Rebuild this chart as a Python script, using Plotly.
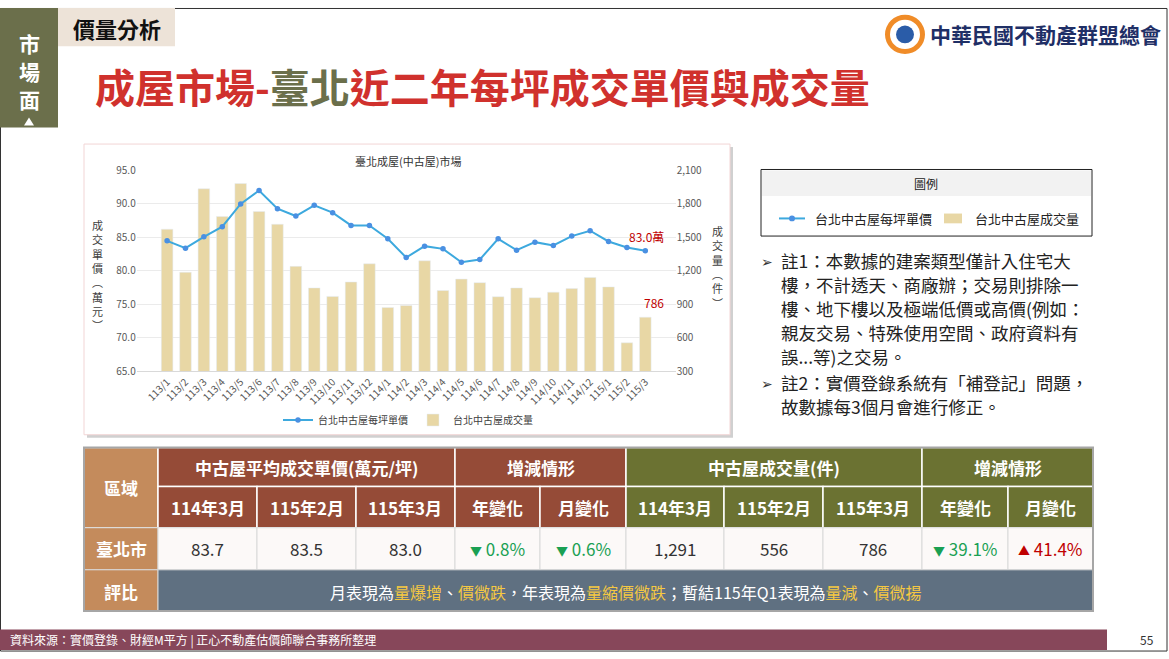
import plotly.graph_objects as go

W, H = 1169, 659
FONT = "Noto Sans CJK TC"

# chart data
months = ["113/1", "113/2", "113/3", "113/4", "113/5", "113/6", "113/7", "113/8", "113/9",
          "113/10", "113/11", "113/12", "114/1", "114/2", "114/3", "114/4", "114/5", "114/6",
          "114/7", "114/8", "114/9", "114/10", "114/11", "114/12", "115/1", "115/2", "115/3"]
price = [84.5, 83.4, 85.1, 86.6, 90.0, 92.0, 89.3, 88.2, 89.8, 88.7, 86.8, 86.8, 84.8, 82.0,
         83.7, 83.3, 81.3, 81.7, 84.8, 83.1, 84.3, 83.8, 85.2, 86.0, 84.4, 83.5, 83.0]
volume = [1574, 1188, 1936, 1688, 1983, 1732, 1618, 1241, 1048, 972, 1101, 1264, 873, 890,
          1291, 1025, 1127, 1095, 969, 1048, 960, 1010, 1042, 1142, 1057, 556, 786]

# table data
period_labels = ["114年3月", "115年2月", "115年3月"]
change_labels = ["年變化", "月變化"]
price_vals = [83.7, 83.5, 83.0]
price_chg = [-0.8, -0.6]
vol_vals = [1291, 556, 786]
vol_chg = [-39.1, 41.4]

notes = [
    ("➢", "註1：本數據的建案類型僅計入住宅大"),
    ("", "樓，不計透天、商廠辦；交易則排除一"),
    ("", "樓、地下樓以及極端低價或高價(例如："),
    ("", "親友交易、特殊使用空間、政府資料有"),
    ("", "誤...等)之交易。"),
    ("➢", "註2：實價登錄系統有「補登記」問題，"),
    ("", "故數據每3個月會進行修正。"),
]
note_y = [258, 282.5, 307, 331.5, 356, 383, 407.5]

RED = "#D0312D"
OLIVE = "#6B6F4B"
BROWN = "#954B37"
TAN = "#C48B5C"
GREEN = "#6B7232"
SLATE = "#5F7081"
BAR = "#E8D7A5"
LINE = "#3DA9DE"


def X(px):
    return px / W


def Y(py):
    return 1 - py / H


shapes = []
annots = []


def rect(x0, y0, x1, y1, fill, line="rgba(0,0,0,0)", lw=1, layer="below"):
    shapes.append(dict(type="rect", xref="paper", yref="paper", x0=X(x0), x1=X(x1),
                       y0=Y(y1), y1=Y(y0), fillcolor=fill, line=dict(color=line, width=lw),
                       layer=layer))


def text(x, y, s, size=12, color="#000000", xa="center", ya="middle", bold=False):
    annots.append(dict(xref="paper", yref="paper", x=X(x), y=Y(y), text=f"<b>{s}</b>" if bold else s,
                       showarrow=False, xanchor=xa, yanchor=ya,
                       font=dict(family=FONT, size=size, color=color)))


# slide frame, header
rect(0.5, 0.5, 1167, 657, "white", "#333333", 1)
rect(0, 0, 58, 122, OLIVE)
for i, ch in enumerate("市場面"):
    text(29, 36 + i * 28.5, ch, 21, "white", bold=True)
shapes.append(dict(type="path", xref="paper", yref="paper", layer="above",
                   path=f"M {X(24)} {Y(120)} L {X(34)} {Y(120)} L {X(29)} {Y(112)} Z",
                   fillcolor="white", line=dict(width=0)))
rect(58, 0, 175, 39, "#EDE3D8")
text(117, 20, "價量分析", 22, "#111111", bold=True)
text(93, 80, f"成屋市場-<span style='color:{OLIVE}'>臺北</span>近二年每坪成交單價與成交量",
     40, RED, xa="left", bold=True)

# logo
for r, c in [(20, "#F08C28"), (15, "white"), (9, "#2A5CA8")]:
    shapes.append(dict(type="circle", xref="paper", yref="paper", x0=X(905 - r), x1=X(905 + r),
                       y0=Y(27 + r), y1=Y(27 - r), fillcolor=c, line=dict(width=0), layer="above"))
text(928, 27, "中華民國不動產群盟總會", 21, "#1F2F66", xa="left", bold=True)

# chart box
rect(87, 142, 733, 439, "#D0D0D0")
rect(84, 139, 730, 436, "white", "#F2D5D5", 1)

# legend box on the right
rect(761, 165, 1092, 233, "white", "#222222", 1)
rect(762, 166, 1091, 192, "#F2F2F2")
text(926, 179, "圖例", 12, "#222222")
shapes.append(dict(type="line", xref="paper", yref="paper", x0=X(779), x1=X(805), y0=Y(215), y1=Y(215),
                   line=dict(color=LINE, width=2)))
shapes.append(dict(type="circle", xref="paper", yref="paper", x0=X(789), x1=X(795), y0=Y(218), y1=Y(212),
                   fillcolor="#4A90E2", line=dict(width=0)))
text(813, 215, "台北中古屋每坪單價", 13, "#222222", xa="left")
rect(944, 210, 962, 220, BAR)
text(973, 215, "台北中古屋成交量", 13, "#222222", xa="left")

for (b, s), y in zip(notes, note_y):
    if b:
        text(767, y, b, 14, "#333333")
    text(779, y, s, 17.5, "#222222", xa="left")

# table
cols = [84, 158, 257, 356, 455, 540, 626, 724, 823, 922, 1008, 1093]
rect(84, 449, 158, 531, TAN, "white", 1.5)
text(121, 490, "區域", 17, "white", bold=True)
for x0, x1, c, s in [(158, 455, BROWN, "中古屋平均成交單價(萬元/坪)"), (455, 626, BROWN, "增減情形"),
                     (626, 922, GREEN, "中古屋成交量(件)"), (922, 1093, GREEN, "增減情形")]:
    rect(x0, 449, x1, 489, c, "white", 1.5)
    text((x0 + x1) / 2, 469, s, 17, "white", bold=True)
sub = period_labels + change_labels
for i in range(10):
    c = BROWN if i < 5 else GREEN
    rect(cols[i + 1], 489, cols[i + 2], 531, c, "white", 1.5)
    text((cols[i + 1] + cols[i + 2]) / 2, 510, sub[i % 5], 17, "white", bold=True)

rect(84, 531, 158, 574, TAN, "#D9D9D9", 1)
text(121, 552, "臺北市", 17, "white", bold=True)


def chg(v):
    if v < 0:
        return f"<span style='font-size:12px'>▼</span> {abs(v):.1f}%", "#1AA053"
    return f"<span style='font-size:12px'>▲</span> {abs(v):.1f}%", "#C00000"


cells = [(f"{v:.1f}", "#333333") for v in price_vals] + [chg(v) for v in price_chg] + \
        [(f"{v:,}", "#333333") for v in vol_vals] + [chg(v) for v in vol_chg]
for i, (s, c) in enumerate(cells):
    rect(cols[i + 1], 531, cols[i + 2], 574, "#FCF9F8", "#D9D9D9", 1)
    text((cols[i + 1] + cols[i + 2]) / 2, 552, s, 17, c)

rect(84, 574, 158, 616, TAN, "#D9D9D9", 1)
text(121, 596, "評比", 17, "white", bold=True)
rect(158, 574, 1093, 616, SLATE, "#D9D9D9", 1)
yl = "<span style='color:#F5C842'>{}</span>"
summary = ("月表現為" + yl.format("量爆增") + "、" + yl.format("價微跌") + "，年表現為" + yl.format("量縮價微跌") +
           "；暫結115年Q1表現為" + yl.format("量減") + "、" + yl.format("價微揚"))
text(626, 597, summary, 16, "white")
shapes.append(dict(type="rect", xref="paper", yref="paper", x0=X(84), x1=X(1093), y0=Y(616), y1=Y(449),
                   line=dict(color="#A6A6A6", width=2), layer="above"))

# footer
rect(0, 635, 1107, 656, "#87475A")
text(8, 646, "資料來源：實價登錄、財經M平方 | 正心不動產估價師聯合事務所整理", 12, "white", xa="left")
text(1147, 645, "55", 12, "#333333")

# chart titles and labels
text(408, 156, "臺北成屋(中古屋)市場", 11, "#333333")
text(97, 273, "<br>".join("成交單價︵萬元︶"), 11, "#404040")
text(717, 265, "<br>".join("成交量︵件︶"), 11, "#404040")

fig = go.Figure()
fig.add_trace(go.Scatter(x=months, y=price, name="台北中古屋每坪單價", yaxis="y2", mode="lines+markers",
                         line=dict(color=LINE, width=2), marker=dict(color="#4A90E2", size=5.5)))
fig.add_trace(go.Bar(x=months, y=volume, name="台北中古屋成交量", marker_color=BAR, width=0.63))

annots.append(dict(xref="x", yref="y2", x=months[-1], y=price[-1], text=f"{price[-1]:.1f}萬",
                   showarrow=False, xanchor="center", yanchor="bottom", yshift=4, xshift=1,
                   font=dict(family=FONT, size=12, color="#C00000")))
annots.append(dict(xref="x", yref="y", x=months[-1], y=volume[-1], text=f"{volume[-1]}",
                   showarrow=False, xanchor="center", yanchor="bottom", yshift=4, xshift=9,
                   font=dict(family=FONT, size=12, color="#C00000")))

tick = dict(family=FONT, size=10, color="#595959")
fig.update_layout(
    width=W, height=H, margin=dict(l=0, r=0, t=0, b=0),
    paper_bgcolor="white", plot_bgcolor="rgba(0,0,0,0)",
    font=dict(family=FONT),
    shapes=shapes, annotations=annots, bargap=0.37,
    xaxis=dict(domain=[X(136.7), X(675.7)], type="category", tickangle=-45, tickfont=tick,
               showline=True, linecolor="#D9D9D9", ticks="", fixedrange=True),
    yaxis=dict(domain=[Y(371.3), Y(166)], side="right", range=[300, 2100], dtick=300, tickformat=",",
               showgrid=True, gridcolor="#EBEBEB", zeroline=False, tickfont=tick, anchor="x"),
    yaxis2=dict(overlaying="y", side="left", range=[65, 95], dtick=5, tickformat=".1f",
                showgrid=False, zeroline=False, tickfont=tick, anchor="x"),
    legend=dict(orientation="h", x=X(408), y=Y(421), xanchor="center", yanchor="middle",
                font=dict(family=FONT, size=10, color="#404040"), bgcolor="rgba(0,0,0,0)"),
)

fig.write_html("out.html", config={"displayModeBar": False},
               post_script="document.body.style.margin='0';document.body.style.overflow='hidden';"
                           "var d=document.getElementById('{plot_id}');d.style.position='fixed';"
                           "d.style.top='0';d.style.left='0';")
